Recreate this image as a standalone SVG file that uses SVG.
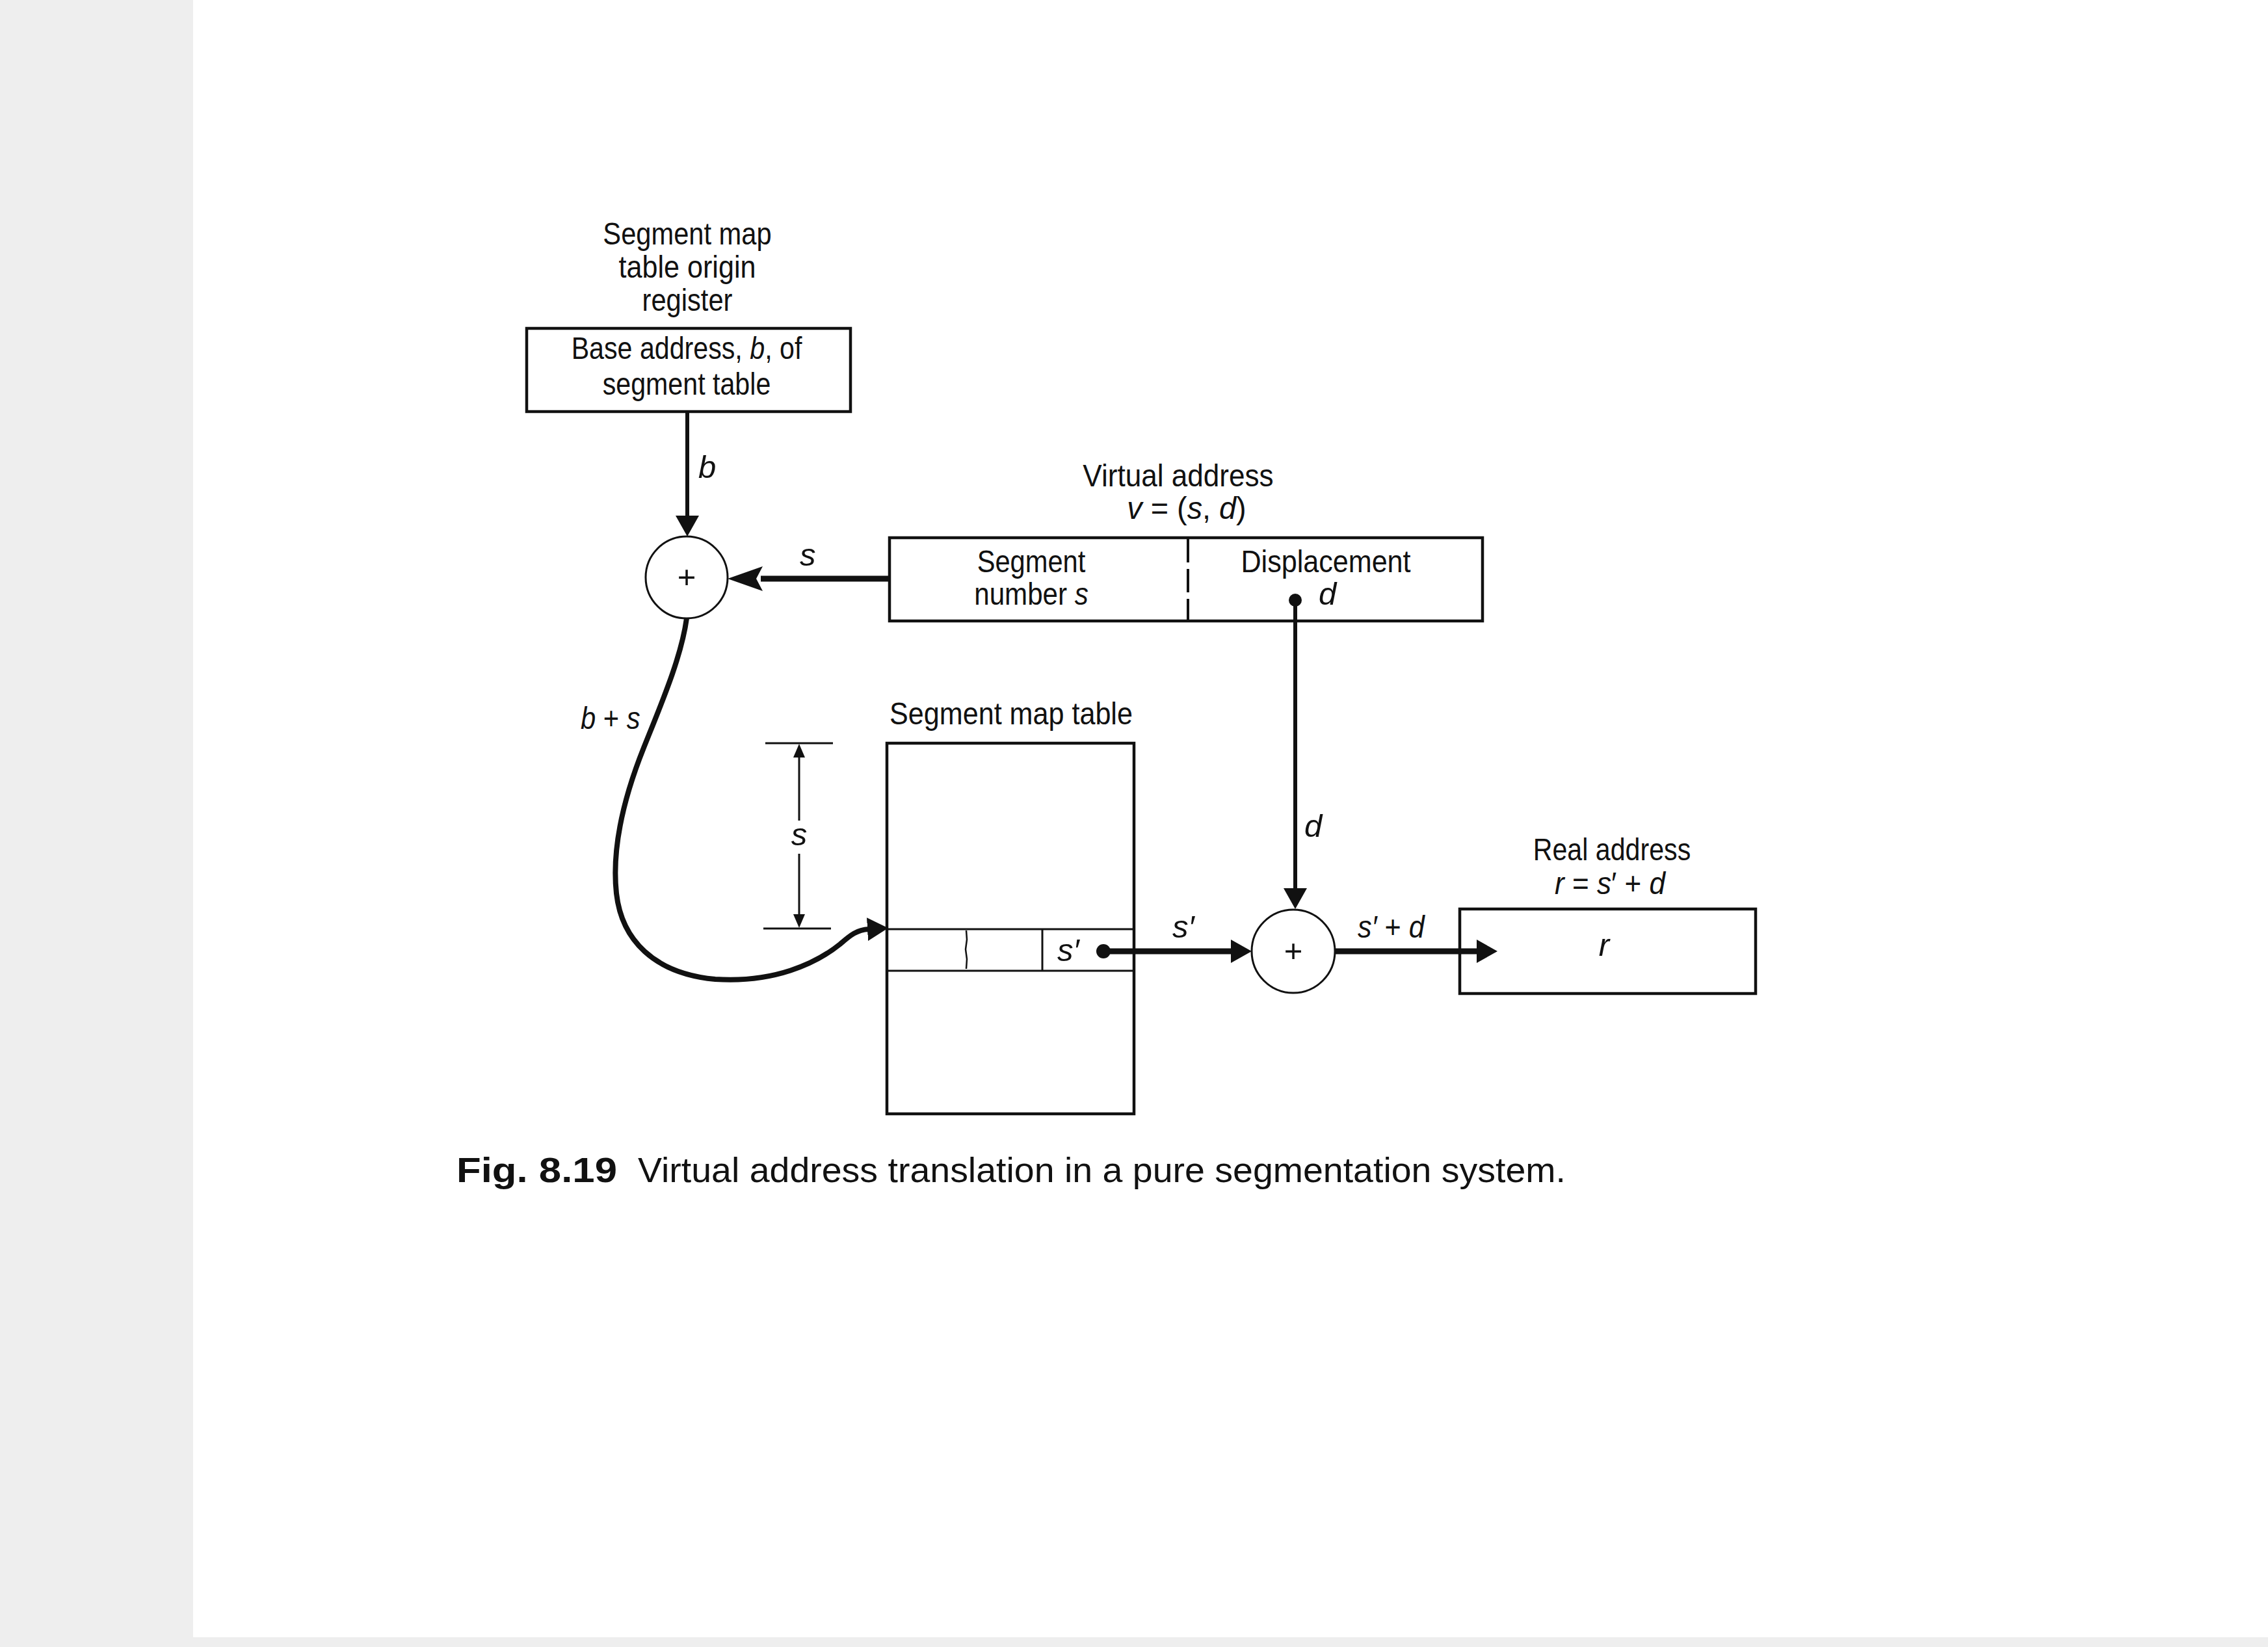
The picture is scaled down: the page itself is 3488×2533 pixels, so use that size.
<svg xmlns="http://www.w3.org/2000/svg" width="3488" height="2533" viewBox="0 0 3488 2533">
<style>
.t{font-family:"Liberation Sans",Arial,sans-serif;font-size:49px;fill:#111;}
.c{text-anchor:middle;}
.i{font-style:italic;}
.box{fill:none;stroke:#111;stroke-width:4.5;}
.thin{fill:none;stroke:#111;stroke-width:3;}
.ln{fill:none;stroke:#111;stroke-width:6;}
.hv{fill:none;stroke:#111;stroke-width:9;}
.cap{font-family:"Liberation Sans",Arial,sans-serif;font-size:54px;fill:#111;}
</style>
<defs>
<marker id="arr" markerUnits="userSpaceOnUse" markerWidth="34" markerHeight="36" refX="2" refY="18" orient="auto" viewBox="0 0 34 36"><path d="M0,0 L32,18 L0,36 z" fill="#111"/></marker>
<marker id="arrL" markerUnits="userSpaceOnUse" markerWidth="56" markerHeight="38" refX="3" refY="19" orient="auto" viewBox="0 0 56 38"><path d="M0,0 L54,19 L0,38 L10,19 z" fill="#111"/></marker>
<marker id="arrS" markerUnits="userSpaceOnUse" markerWidth="22" markerHeight="18" refX="1" refY="9" orient="auto-start-reverse" viewBox="0 0 22 18"><path d="M0,0 L21,9 L0,18 z" fill="#111"/></marker>
</defs>
<rect x="0" y="0" width="3488" height="2533" fill="#eeeeee"/>
<rect x="297" y="0" width="3191" height="2518" fill="#ffffff"/>

<g id="register">
<text class="t c" transform="translate(1057,376) scale(0.85,1)">Segment map</text>
<text class="t c" transform="translate(1057,427) scale(0.88,1)">table origin</text>
<text class="t c" transform="translate(1057,478) scale(0.85,1)">register</text>
<rect class="box" x="810" y="505" width="498" height="128"/>
<text class="t c" transform="translate(1056,552) scale(0.84,1)">Base address, <tspan class="i">b</tspan>, of</text>
<text class="t c" transform="translate(1056,607) scale(0.84,1)">segment table</text>
</g>

<g id="adder1">
<circle class="thin" cx="1056" cy="888" r="63"/>
<text class="t c" x="1056" y="904" font-size="44">+</text>
</g>

<g id="virtual-address">
<text class="t c" transform="translate(1812,748) scale(0.9,1)">Virtual address</text>
<text class="t c" transform="translate(1825,798) scale(0.955,1)"><tspan class="i">v</tspan> = (<tspan class="i">s</tspan>, <tspan class="i">d</tspan>)</text>
<rect class="box" x="1368" y="827" width="912" height="128"/>
<line x1="1827" y1="829" x2="1827" y2="953" stroke="#111" stroke-width="4" stroke-dasharray="36,10"/>
<text class="t c" transform="translate(1586,880) scale(0.85,1)">Segment</text>
<text class="t c" transform="translate(1586,930) scale(0.86,1)">number <tspan class="i">s</tspan></text>
<text class="t c" transform="translate(2039,880) scale(0.88,1)">Displacement</text>
<text class="t i" x="2028" y="930">d</text>
</g>

<g id="segment-map-table">
<text class="t c" transform="translate(1555,1114) scale(0.88,1)">Segment map table</text>
<rect class="box" x="1364" y="1143" width="380" height="570"/>
<line class="thin" x1="1364" y1="1429" x2="1744" y2="1429"/>
<line class="thin" x1="1364" y1="1493" x2="1744" y2="1493"/>
<path d="M1486,1431 L1487,1445 L1485,1460 L1487,1475 L1486,1490" fill="none" stroke="#111" stroke-width="2.5"/>
<line class="thin" x1="1603" y1="1429" x2="1603" y2="1493"/>
<text class="t i" x="1626" y="1478">s′</text>
</g>

<g id="adder2">
<circle class="thin" cx="1989" cy="1463" r="64"/>
<text class="t c" x="1989" y="1479" font-size="44">+</text>
</g>

<g id="real-address">
<text class="t c" transform="translate(2479,1323) scale(0.84,1)">Real address</text>
<text class="t c" transform="translate(2476,1375) scale(0.9,1)"><tspan class="i">r</tspan> = <tspan class="i">s</tspan>′ + <tspan class="i">d</tspan></text>
<rect class="box" x="2245" y="1398" width="455" height="130"/>
<text class="t i c" x="2467" y="1470">r</text>
</g>

<g id="dimension">
<line class="thin" x1="1177" y1="1143" x2="1281" y2="1143"/>
<line class="thin" x1="1174" y1="1428" x2="1278" y2="1428"/>
<line x1="1229" y1="1164" x2="1229" y2="1262" stroke="#111" stroke-width="3" marker-start="url(#arrS)"/>
<line x1="1229" y1="1313" x2="1229" y2="1407" stroke="#111" stroke-width="3" marker-end="url(#arrS)"/>
<text class="t i c" x="1229" y="1300">s</text>
</g>

<g id="connectors">
<line class="ln" x1="1057" y1="633" x2="1057" y2="795" marker-end="url(#arr)"/>
<text class="t i" x="1074" y="735">b</text>
<line class="hv" x1="1368" y1="890" x2="1170" y2="890" marker-end="url(#arrL)"/>
<text class="t i" x="1230" y="870">s</text>
<path d="M1056,951 C1048,1010 1018,1080 990,1150 C962,1220 940,1300 948,1374 C956,1445 1005,1497 1100,1506 C1190,1512 1255,1482 1292,1452 C1308,1438 1318,1430 1336,1429" fill="none" stroke="#111" stroke-width="8" marker-end="url(#arr)"/>
<text class="t i" transform="translate(893,1121) scale(0.85,1)">b <tspan font-style="normal">+</tspan> s</text>
<circle cx="1992" cy="923" r="10" fill="#111"/>
<line class="ln" x1="1992" y1="923" x2="1992" y2="1368" marker-end="url(#arr)"/>
<text class="t i" x="2006" y="1287">d</text>
<circle cx="1697" cy="1463" r="11" fill="#111"/>
<line class="hv" x1="1697" y1="1463" x2="1895" y2="1463" marker-end="url(#arr)"/>
<text class="t i" x="1803" y="1442">s′</text>
<line class="hv" x1="2053" y1="1463" x2="2273" y2="1463" marker-end="url(#arr)"/>
<text class="t i" transform="translate(2088,1442) scale(0.88,1)">s′ <tspan font-style="normal">+</tspan> d</text>
</g>

<g id="caption">
<text class="cap" x="702" y="1818" font-weight="bold" textLength="247" lengthAdjust="spacingAndGlyphs">Fig. 8.19</text>
<text class="cap" x="981" y="1818" textLength="1427" lengthAdjust="spacingAndGlyphs">Virtual address translation in a pure segmentation system.</text>
</g>
</svg>
